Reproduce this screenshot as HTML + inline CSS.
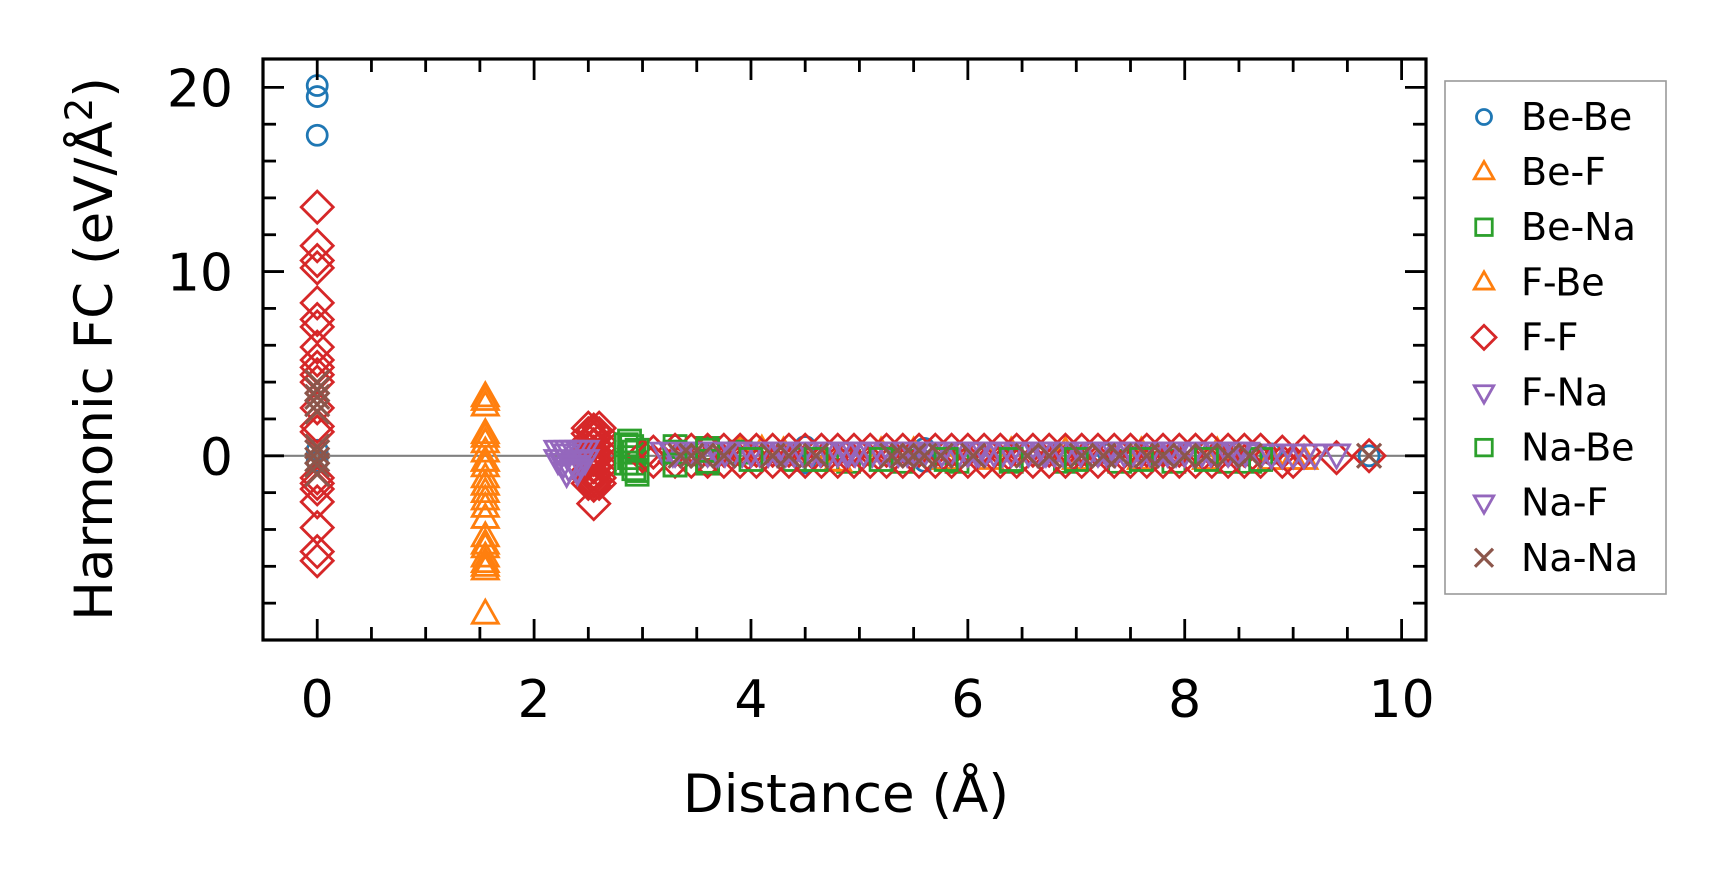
<!DOCTYPE html>
<html><head><meta charset="utf-8"><style>
html,body{margin:0;padding:0;background:#fff;}
svg{display:block;font-family:"DejaVu Sans","Liberation Sans",sans-serif;}
</style></head><body>
<svg id="chart" width="1726" height="883" viewBox="0 0 1726 883">
<rect width="1726" height="883" fill="#fff"/>
<g id="plot"></g>
<g id="axes"></g>
<text x="846" y="812" font-size="53" text-anchor="middle">Distance (Å)</text>
<text transform="translate(112,349) rotate(-90)" font-size="53" text-anchor="middle">Harmonic FC (eV/Å<tspan font-size="37" dy="-20">2</tspan><tspan dy="20">)</tspan></text>
<g id="legend"></g>
</svg>
<script>
const seriesNames = ["Be-Be","Be-F","Be-Na","F-Be","F-F","F-Na","Na-Be","Na-F","Na-Na"];
const seriesColors = ["#1f77b4","#ff7f0e","#2ca02c","#ff7f0e","#d62728","#9467bd","#2ca02c","#9467bd","#8c564b"];
const seriesMarkers = ["o","^","s","^","D","v","s","v","x"];
const xTicks = [0,2,4,6,8,10];
const yTicks = [0,10,20];

const beBeDist = [0,0,0,0,0,4.5,4.5,5.6,5.6,7.3,8.8,9.7];
const beBeFc = [20.1,19.5,17.4,0.3,-0.3,0.5,-0.4,0.4,-0.3,0.1,0.1,0];
const beFDist = [1.55,1.55,1.55,1.55,1.55,1.55,1.55,1.55,1.55,1.55,1.55,1.55,1.55,1.55,1.55,1.55,1.55,1.55,3.9,4.3,4.7,5.2,5.8,6.4,7.0,7.6,8.2,8.8,9.1];
const beFFc = [3.2,2.7,1.2,0.7,0.2,-0.3,-0.6,-1.2,-1.6,-2.0,-2.8,-3.4,-4.4,-5.0,-5.5,-5.8,-6.2,-8.6,0.3,0.2,-0.3,0.2,-0.2,0.2,-0.2,0.2,-0.2,-0.2,-0.2];
const beNaDist = [2.88,2.9,2.92,2.88,2.9,2.92,2.95,3.3,3.3,3.6,3.6,3.9,4.4,4.9,5.4,5.9,6.4,6.9,7.4,7.9,8.4,8.6];
const beNaFc = [0.8,0.5,0.2,-0.1,-0.4,-0.7,-1.0,0.5,-0.5,0.4,-0.4,0.2,-0.2,-0.3,-0.3,-0.3,-0.3,-0.3,-0.3,-0.3,-0.3,-0.3];
const fBeDist = [1.55,1.55,1.55,1.55,1.55,1.55,1.55,4.1,4.8,5.5,6.2,6.9,7.6,8.3,9.0];
const fBeFc = [3.0,1.0,-0.3,-1.6,-2.4,-4.8,-6.0,0.3,-0.3,0.2,-0.2,0.2,-0.2,0.2,-0.2];
const fFDist = [0,0,0,0,0,0,0,0,0,0,0,0,0,0,0,0,0,0,0,0,0,0,
 2.5,2.5,2.5,2.5,2.5,2.5,2.5,2.5,2.5,2.6,2.6,2.6,2.6,2.6,2.6,2.6,2.6,2.6,2.55,2.55,2.55,2.55,2.55,2.55,2.55,2.55,2.55,2.55,2.55,2.55,3.1,3.1,3.0,
 3.3,3.45,3.6,3.75,3.9,4.05,4.2,4.35,4.5,4.65,4.8,4.95,5.1,5.25,5.4,5.55,5.7,5.85,6.0,6.15,6.3,6.45,6.6,6.75,6.9,7.05,7.2,7.35,7.5,7.65,7.8,7.95,8.1,8.25,8.4,8.55,8.7,8.9,9.1,
 3.3,3.45,3.6,3.75,3.9,4.05,4.2,4.35,4.5,4.65,4.8,4.95,5.1,5.25,5.4,5.55,5.7,5.85,6.0,6.15,6.3,6.45,6.6,6.75,6.9,7.05,7.2,7.35,7.5,7.65,7.8,7.95,8.1,8.25,8.4,8.55,8.7,8.9,9.0,9.4,9.7];
const fFFc = [13.5,11.4,10.6,10.2,8.3,7.4,7.0,5.9,5.2,4.8,4.4,4.0,2.6,1.6,1.3,-1.2,-1.5,-1.8,-2.5,-3.9,-5.2,-5.7,
 1.2,0.8,0.4,0,-0.4,-0.8,-1.2,-1.5,1.5,1.2,0.8,0.4,0,-0.4,-0.8,-1.2,-1.5,1.5,1.4,1.0,0.6,0.2,-0.2,-0.6,-1.0,-1.4,-1.6,0.1,-0.1,-2.6,0.2,-0.3,0,
 0.3,0.3,0.3,0.3,0.3,0.3,0.3,0.3,0.3,0.3,0.3,0.3,0.3,0.3,0.3,0.3,0.3,0.3,0.3,0.3,0.3,0.3,0.3,0.3,0.3,0.3,0.3,0.3,0.3,0.3,0.3,0.3,0.3,0.3,0.3,0.3,0.3,0.2,0.2,
 -0.3,-0.3,-0.3,-0.3,-0.3,-0.3,-0.3,-0.3,-0.3,-0.3,-0.3,-0.3,-0.3,-0.3,-0.3,-0.3,-0.3,-0.3,-0.3,-0.3,-0.3,-0.3,-0.3,-0.3,-0.3,-0.3,-0.3,-0.3,-0.3,-0.3,-0.3,-0.3,-0.3,-0.3,-0.3,-0.3,-0.3,-0.3,-0.3,-0.1,0];
const fNaDist = [2.22,2.27,2.32,2.37,2.42,2.47,2.22,2.27,2.32,2.37,2.42,2.47,2.3,2.4,
 3.2,3.28,3.36,3.44,3.52,3.6,3.68,3.76,3.84,3.92,4.0,4.08,4.16,4.24,4.32,4.4,4.48,4.56,4.64,4.72,4.8,4.88,4.96,5.04,5.12,5.2,5.28,5.36,5.44,5.52,5.6,5.68,5.76,5.84,5.92,6.0,6.08,6.16,6.24,6.32,6.4,6.48,6.56,6.64,6.72,6.8,6.88,6.96,7.04,7.12,7.2,7.28,7.36,7.44,7.52,7.6,7.68,7.76,7.84,7.92,8.0,8.08,8.16,8.24,8.32,8.4,8.48,8.56,8.7,8.9,9.1,9.4];
const fNaFc = [0.3,0.3,0.3,0.3,0.3,0.3,-0.2,-0.4,-0.6,-0.5,-0.3,-0.2,-0.9,-0.8,
 0.2,0.2,0.2,0.2,0.2,0.2,0.2,0.2,0.2,0.2,0.2,0.2,0.2,0.2,0.2,0.2,0.2,0.2,0.2,0.2,0.2,0.2,0.2,0.2,0.2,0.2,0.2,0.2,0.2,0.2,0.2,0.2,0.2,0.2,0.2,0.2,0.2,0.2,0.2,0.2,0.2,0.2,0.2,0.2,0.2,0.2,0.2,0.2,0.2,0.2,0.2,0.2,0.2,0.2,0.2,0.2,0.2,0.2,0.2,0.2,0.2,0.2,0.2,0.2,0.2,0.2,0.2,0.2,0.1,0.1,0.1,0.1];
const naBeDist = [2.85,2.95,2.85,2.95,3.3,3.3,3.6,3.6,4.0,4.6,5.2,5.8,6.4,7.0,7.6,8.2,8.7];
const naBeFc = [0.6,0.3,-0.4,-0.8,0.2,-0.5,0.3,-0.3,-0.2,-0.2,-0.2,-0.2,-0.2,-0.2,-0.2,-0.2,-0.2];
const naFDist = [2.3,2.4,3.3,3.7,4.3,4.9,5.5,6.1,6.7,7.3,7.9,8.5,8.8,9.0,9.2];
const naFFc = [0.1,-0.7,0.2,0.2,0.2,0.2,0.2,0.2,0.2,0.2,0.2,0.2,0.1,0.1,0.1];
const naNaDist = [0,0,0,0,0,0,0,0,0,0,3.35,3.45,3.55,3.75,4.2,4.35,4.6,5.3,5.4,5.5,5.6,5.75,6.05,6.55,6.75,7.05,7.25,7.4,7.65,7.8,8.0,8.2,8.4,8.6,9.7];
const naNaFc = [4.0,3.6,3.2,2.8,2.4,0.5,0.2,-0.2,-0.5,-1.0,0,0,0,0,0,0,0,0,0,0,0,0,0,0,0,0,0,0,0,0,0,0,0,0,0];
const seriesDist = [beBeDist,beFDist,beNaDist,fBeDist,fFDist,fNaDist,naBeDist,naFDist,naNaDist];
const seriesFc = [beBeFc,beFFc,beNaFc,fBeFc,fFFc,fNaFc,naBeFc,naFFc,naNaFc];

const L=263,R=1426,T=59,B=640;
const xMin=-0.5,xMax=10.225,yMin=-10,yMax=21.54;
const sx=v=>L+(v-xMin)/(xMax-xMin)*(R-L);
const sy=v=>B-(v-yMin)/(yMax-yMin)*(B-T);
const NS="http://www.w3.org/2000/svg";
function mk(tag,attrs,parent){const e=document.createElementNS(NS,tag);for(const k in attrs)e.setAttribute(k,attrs[k]);parent.appendChild(e);return e;}

function marker(type,cx,cy,color,parent,s){
  let e;
  if(type==="o") e=mk("circle",{cx:cx,cy:cy,r:10*s},parent);
  else if(type==="^") e=mk("polygon",{points:`${cx},${cy-14*s} ${cx-13*s},${cy+9*s} ${cx+13*s},${cy+9*s}`},parent);
  else if(type==="v") e=mk("polygon",{points:`${cx},${cy+14*s} ${cx-13*s},${cy-9*s} ${cx+13*s},${cy-9*s}`},parent);
  else if(type==="s") e=mk("rect",{x:cx-11*s,y:cy-11*s,width:22*s,height:22*s},parent);
  else if(type==="D") e=mk("polygon",{points:`${cx},${cy-16*s} ${cx+16*s},${cy} ${cx},${cy+16*s} ${cx-16*s},${cy}`},parent);
  else e=mk("path",{d:`M${cx-12*s},${cy-12*s}L${cx+12*s},${cy+12*s}M${cx-12*s},${cy+12*s}L${cx+12*s},${cy-12*s}`},parent);
  e.setAttribute("fill","none");e.setAttribute("stroke",color);e.setAttribute("stroke-width",type==="x"?3.2:2.8);
  return e;
}

const plot=document.getElementById("plot");
const zl=mk("line",{x1:L,x2:R,y1:sy(0),y2:sy(0),stroke:"#808080","stroke-width":2.2},plot);


seriesNames.forEach((n,i)=>{
  const g=mk("g",{},plot);
  
  
  seriesDist[i].forEach((d,j)=>{
    const m=marker(seriesMarkers[i],sx(d),sy(seriesFc[i][j]),seriesColors[i],g,1);
    
    
  });
});

const ax=document.getElementById("axes");
const frame=mk("rect",{x:L,y:T,width:R-L,height:B-T,fill:"none",stroke:"#000","stroke-width":3.2},ax);


for(let k=0;k<=20;k++){const v=k*0.5;const x=sx(v);const maj=(k%4===0);const len=maj?21:13;
  mk("line",{x1:x,x2:x,y1:B,y2:B-len,stroke:"#000","stroke-width":2.8},ax);
  mk("line",{x1:x,x2:x,y1:T,y2:T+len,stroke:"#000","stroke-width":2.8},ax);}
for(let k=-5;k<=10;k++){const v=k*2;const y=sy(v);const maj=(v%10===0);const len=maj?21:13;
  mk("line",{x1:L,x2:L+len,y1:y,y2:y,stroke:"#000","stroke-width":2.8},ax);
  mk("line",{x1:R,x2:R-len,y1:y,y2:y,stroke:"#000","stroke-width":2.8},ax);}
xTicks.forEach(v=>{const t=mk("text",{x:sx(v),y:717,"font-size":52,"text-anchor":"middle"},ax);t.textContent=v;
  
  });
yTicks.forEach(v=>{const t=mk("text",{x:233,y:sy(v)+19,"font-size":52,"text-anchor":"end"},ax);t.textContent=v;
  
  });

const lg=document.getElementById("legend");
const lb=mk("rect",{x:1445,y:81,width:221,height:513,fill:"#fff",stroke:"#999","stroke-width":1.6},lg);


seriesNames.forEach((n,i)=>{
  const y=117+i*55.1;
  const g=mk("g",{},lg);
  
  
  marker(seriesMarkers[i],1484,y,seriesColors[i],g,0.75);
  const t=mk("text",{x:1521,y:y+13,"font-size":38},g);t.textContent=n;
});
</script>
</body></html>
